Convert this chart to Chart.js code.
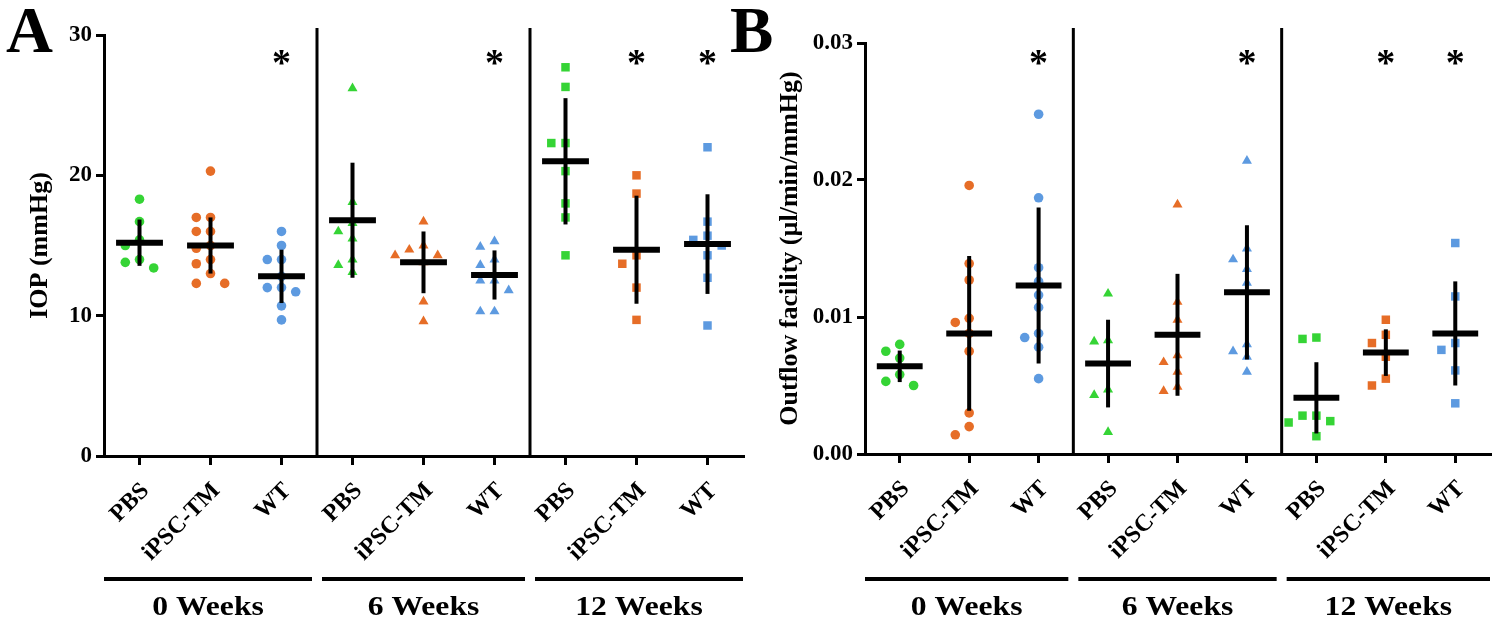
<!DOCTYPE html>
<html>
<head>
<meta charset="utf-8">
<script src="https://cdn.jsdelivr.net/npm/chart.js@4.4.1/dist/chart.umd.min.js"></script>
<style>
  body { margin: 0; background: #fff; }
  .panel { position: absolute; top: 0; height: 625px; }
</style>
</head>
<body>
<div class="panel" style="left:0;width:750px"><canvas id="iopChart"></canvas></div>
<div class="panel" style="left:720px;width:780px"><canvas id="flowChart"></canvas></div>
<script>
const treatments = ['PBS', 'iPSC-TM', 'WT'];
const weeks = ['0 Weeks', '6 Weeks', '12 Weeks'];
const starred = [2, 5, 7, 8];

// IOP (mmHg), one list per group, order: week x treatment
const iop0Pbs = [18.3, 16.7, 15.4, 15.0, 14.0, 13.8, 13.4];
const iop0Ipsc = [20.3, 17.0, 17.0, 16.0, 16.0, 15.0, 14.8, 14.0, 13.7, 13.0, 12.3, 12.3];
const iop0Wt = [16.0, 15.0, 14.0, 14.0, 12.8, 12.0, 12.0, 11.7, 10.7, 9.7];
const iop6Pbs = [26.2, 18.1, 16.6, 16.0, 15.5, 14.0, 13.6, 13.1];
const iop6Ipsc = [16.7, 15.0, 14.7, 14.3, 14.3, 13.8, 11.0, 9.6];
const iop6Wt = [15.3, 14.9, 14.0, 13.6, 12.5, 12.5, 11.8, 10.3, 10.3];
const iop12Pbs = [27.7, 26.3, 22.3, 22.3, 20.3, 18.0, 17.0, 14.3];
const iop12Ipsc = [20.0, 18.7, 14.3, 13.7, 12.0, 9.7];
const iop12Wt = [22.0, 16.7, 15.7, 15.4, 15.0, 14.3, 12.7, 9.3];
const iopMean = [15.2, 15.0, 12.8, 16.8, 13.8, 12.9, 21.0, 14.7, 15.1];
const iopSd = [1.65, 2.0, 1.9, 4.1, 2.2, 1.75, 4.5, 3.85, 3.55];

// outflow facility (µl/min/mmHg)
const flow0Pbs = [0.0080, 0.0075, 0.0070, 0.0058, 0.0053, 0.0050];
const flow0Ipsc = [0.0196, 0.0139, 0.0127, 0.0099, 0.0096, 0.0088, 0.0075, 0.0030, 0.0020, 0.0014];
const flow0Wt = [0.0248, 0.0187, 0.0136, 0.0126, 0.0116, 0.0107, 0.0088, 0.0085, 0.0078, 0.0055];
const flow6Pbs = [0.0117, 0.0083, 0.0082, 0.0047, 0.0043, 0.0016];
const flow6Ipsc = [0.0182, 0.0111, 0.0098, 0.0072, 0.0067, 0.0060, 0.0049, 0.0046];
const flow6Wt = [0.0214, 0.0150, 0.0142, 0.0135, 0.0125, 0.0080, 0.0075, 0.0071, 0.0060];
const flow12Pbs = [0.0085, 0.0084, 0.0028, 0.0028, 0.0024, 0.0023, 0.0013];
const flow12Ipsc = [0.0098, 0.0087, 0.0081, 0.0071, 0.0055, 0.0050];
const flow12Wt = [0.0154, 0.0115, 0.0081, 0.0076, 0.0061, 0.0037];
const flowMean = [0.0064, 0.0088, 0.0123, 0.0066, 0.0087, 0.0118, 0.0041, 0.0074, 0.0088];
const flowSd = [0.00115, 0.00565, 0.0057, 0.0032, 0.00445, 0.0049, 0.0026, 0.0017, 0.0038];

const colors = ['#35d435', '#e66d27', '#5d9ae0'];
const shapes = ['circle', 'triangle', 'rect'];
const radii = [4.8, 5.8, 6];
const FONT = '"Liberation Serif", "Times New Roman", serif';

// simple beeswarm: points closer than thr share a row and get spread sideways
function swarm(values, thr) {
  const placed = [];
  const slots = [0, -1, 1, -2, 2, -3, 3];
  return values.map(v => {
    const taken = placed.filter(p => Math.abs(p.v - v) < thr).map(p => p.s);
    const s = slots.find(k => !taken.includes(k));
    placed.push({ v, s });
    return s;
  });
}

function makeDatasets(groups, thr) {
  return groups.map((vals, i) => {
    const offs = swarm(vals, thr);
    const w = Math.floor(i / 3), t = i % 3;
    return {
      label: weeks[w] + ' ' + treatments[t],
      data: vals.map((v, k) => ({ x: i + offs[k] * 0.2, y: v })),
      pointStyle: shapes[w],
      pointRadius: radii[w],
      pointBackgroundColor: colors[t],
      pointBorderWidth: 0,
      showLine: false
    };
  });
}

// the reference lettering is a little wider than Liberation Serif
function wideText(ctx, text, x, y, sx) {
  ctx.save();
  ctx.translate(x, y);
  ctx.scale(sx, 1);
  ctx.fillText(text, 0, 0);
  ctx.restore();
}

const groupPlugin = {
  id: 'groups',
  afterDatasetsDraw(chart, args, opts) {
    const { ctx, scales: { x, y } } = chart;
    ctx.save();
    ctx.strokeStyle = '#000';
    ctx.lineCap = 'butt';
    opts.means.forEach((m, i) => {
      const cx = x.getPixelForValue(i);
      const half = x.getPixelForValue(i + 0.33) - cx;
      ctx.lineWidth = 4;
      ctx.beginPath();
      ctx.moveTo(cx, y.getPixelForValue(m + opts.sds[i]));
      ctx.lineTo(cx, y.getPixelForValue(m - opts.sds[i]));
      ctx.stroke();
      ctx.lineWidth = 6;
      ctx.beginPath();
      ctx.moveTo(cx - half, y.getPixelForValue(m));
      ctx.lineTo(cx + half, y.getPixelForValue(m));
      ctx.stroke();
    });
    ctx.restore();
  },
  afterDraw(chart, args, opts) {
    const { ctx, chartArea, scales: { x } } = chart;
    ctx.save();
    ctx.strokeStyle = '#000';
    ctx.fillStyle = '#000';
    // separators between time points
    ctx.lineWidth = 3;
    [2.5, 5.5].forEach(v => {
      const px = x.getPixelForValue(v);
      ctx.beginPath();
      ctx.moveTo(px, 28);
      ctx.lineTo(px, chartArea.bottom);
      ctx.stroke();
    });
    // significance stars
    ctx.font = 'bold 38px ' + FONT;
    ctx.textAlign = 'center';
    ctx.textBaseline = 'alphabetic';
    starred.forEach(i => ctx.fillText('*', x.getPixelForValue(i), 75));
    // week brackets
    weeks.forEach((w, g) => {
      const a = x.getPixelForValue(g * 3 - 0.5) + (g ? 5 : 0);
      const b = x.getPixelForValue(g * 3 + 2.5) - (g < 2 ? 5 : 0);
      ctx.lineWidth = 4;
      ctx.beginPath();
      ctx.moveTo(a, 579);
      ctx.lineTo(b, 579);
      ctx.stroke();
      ctx.font = 'bold 28px ' + FONT;
      ctx.textAlign = 'center';
      ctx.textBaseline = 'middle';
      wideText(ctx, w, (a + b) / 2, 608, 1.13);
    });
    // panel letter
    ctx.font = 'bold 65px ' + FONT;
    ctx.textAlign = 'left';
    ctx.textBaseline = 'alphabetic';
    ctx.fillText(opts.letter, opts.letterX, 52);
    ctx.restore();
  }
};

function makeChart(id, groups, thr, yCfg, yTitle, plug, box) {
  return new Chart(document.getElementById(id), {
    type: 'scatter',
    data: { datasets: makeDatasets(groups, thr) },
    plugins: [groupPlugin],
    options: {
      responsive: true,
      maintainAspectRatio: false,
      animation: false,
      layout: { padding: { top: box.top, right: box.right, bottom: 0, left: 0 } },
      plugins: { legend: { display: false }, tooltip: { enabled: false }, groups: plug },
      scales: {
        x: {
          type: 'linear',
          min: -0.5,
          max: 8.5,
          afterBuildTicks: s => { s.ticks = [0, 1, 2, 3, 4, 5, 6, 7, 8].map(v => ({ value: v })); },
          afterFit: s => { s.height = box.xh; s.paddingLeft = 0; s.paddingRight = 0; },
          ticks: {
            autoSkip: false, minRotation: 45, maxRotation: 45, padding: 12, labelOffset: 6,
            color: '#000', font: { family: FONT, size: 24, weight: 'bold' },
            callback: v => treatments[Math.round(v) % 3]
          },
          grid: { drawOnChartArea: false, color: '#000', lineWidth: 3, tickLength: 9 },
          border: { color: '#000', width: 3 }
        },
        y: {
          min: yCfg.min, max: yCfg.max,
          afterBuildTicks: s => { s.ticks = yCfg.ticks.map(v => ({ value: v })); },
          afterFit: s => { s.width = box.yw; s.paddingTop = 0; s.paddingBottom = 0; },
          ticks: { color: '#000', font: { family: FONT, size: 23, weight: 'bold' }, padding: 4, callback: yCfg.fmt },
          grid: { drawOnChartArea: false, color: '#000', lineWidth: 3, tickLength: 8 },
          border: { color: '#000', width: 3 },
          title: {
            display: true, text: yTitle, color: '#000',
            font: { family: FONT, size: 26, weight: 'bold' },
            padding: { top: box.titlePad, bottom: 0 }
          }
        }
      }
    }
  });
}

makeChart('iopChart',
  [iop0Pbs, iop0Ipsc, iop0Wt, iop6Pbs, iop6Ipsc, iop6Wt, iop12Pbs, iop12Ipsc, iop12Wt], 0.75,
  { min: 0, max: 30, ticks: [0, 10, 20, 30], fmt: v => String(v) },
  'IOP (mmHg)',
  { means: iopMean, sds: iopSd, letter: 'A', letterX: 6 },
  { top: 35, right: 7, xh: 169, yw: 104, titlePad: 25 });

makeChart('flowChart',
  [flow0Pbs, flow0Ipsc, flow0Wt, flow6Pbs, flow6Ipsc, flow6Wt, flow12Pbs, flow12Ipsc, flow12Wt], 0.0008,
  { min: 0, max: 0.03, ticks: [0, 0.01, 0.02, 0.03], fmt: v => v.toFixed(2) },
  'Outflow facility (µl/min/mmHg)',
  { means: flowMean, sds: flowSd, letter: 'B', letterX: 10 },
  { top: 43, right: 10, xh: 171, yw: 145, titlePad: 55 });
</script>
</body>
</html>
